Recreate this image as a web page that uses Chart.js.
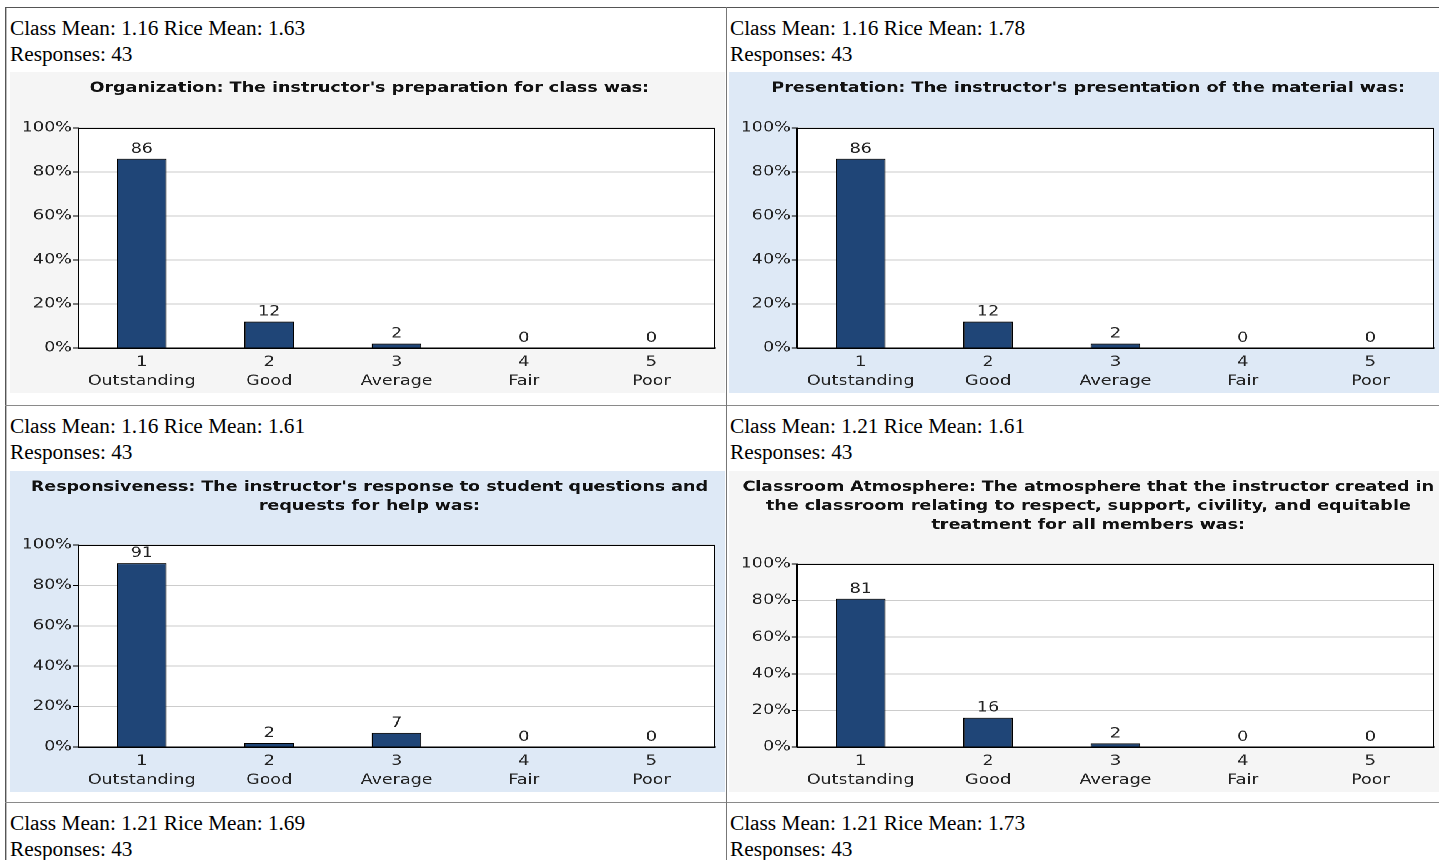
<!DOCTYPE html>
<html>
<head>
<meta charset="utf-8">
<script src="https://cdn.jsdelivr.net/npm/chart.js@4.4.1/dist/chart.umd.min.js"></script>
<style>
  html, body { margin: 0; padding: 0; background: #fff; overflow: hidden; width: 1439px; height: 860px; }
  .line { position: absolute; background: #8a8a8a; }
  .info { position: absolute; font-family: "Liberation Serif", "Times New Roman", serif; font-size: 21.3px; line-height: 25.5px; color: #000; white-space: nowrap; }
  .box { position: absolute; width: 572px; height: 321px; transform: scaleX(1.25); transform-origin: 0 0; }
  .gray { background: #f5f5f5; }
  .blue { background: #dee9f6; }
</style>
</head>
<body>
<div class="line" style="left:5px; top:7px; width:1434px; height:1px; background:#555;"></div>
<div class="line" style="left:5px; top:7px; width:1px; height:853px; background:#555;"></div>
<div class="line" style="left:6px; top:8px; width:1px; height:852px; background:#bbb;"></div>
<div class="line" style="left:5px; top:405px; width:1434px; height:1px;"></div>
<div class="line" style="left:5px; top:802px; width:1434px; height:1px;"></div>
<div class="line" style="left:726px; top:7px; width:1px; height:853px; background:#777;"></div>

<div id="info0" class="info" style="left:10px; top:16px;"></div>
<div id="info1" class="info" style="left:730px; top:16px;"></div>
<div id="info2" class="info" style="left:10px; top:414px;"></div>
<div id="info3" class="info" style="left:730px; top:414px;"></div>
<div id="info4" class="info" style="left:10px; top:811px;"></div>
<div id="info5" class="info" style="left:730px; top:811px;"></div>

<div class="box gray" style="left:10px; top:72px;"><canvas id="c0"></canvas></div>
<div class="box blue" style="left:729px; top:72px;"><canvas id="c1"></canvas></div>
<div class="box blue" style="left:10px; top:471px;"><canvas id="c2"></canvas></div>
<div class="box gray" style="left:729px; top:471px;"><canvas id="c3"></canvas></div>

<script>
// ---- data ----
const ratingNumbers = ['1', '2', '3', '4', '5'];
const ratingNames = ['Outstanding', 'Good', 'Average', 'Fair', 'Poor'];
const yTickValues = [0, 20, 40, 60, 80, 100];

const organizationPct = [86, 12, 2, 0, 0];
const presentationPct = [86, 12, 2, 0, 0];
const responsivenessPct = [91, 2, 7, 0, 0];
const atmospherePct = [81, 16, 2, 0, 0];

const organizationTitle = ["Organization: The instructor's preparation for class was:"];
const presentationTitle = ["Presentation: The instructor's presentation of the material was:"];
const responsivenessTitle = ["Responsiveness: The instructor's response to student questions and", "requests for help was:"];
const atmosphereTitle = ["Classroom Atmosphere: The atmosphere that the instructor created in", "the classroom relating to respect, support, civility, and equitable", "treatment for all members was:"];

const classMeans = ['1.16', '1.16', '1.16', '1.21', '1.21', '1.21'];
const riceMeans = ['1.63', '1.78', '1.61', '1.61', '1.69', '1.73'];
const responseCounts = [43, 43, 43, 43, 43, 43];

// ---- info text ----
classMeans.forEach((cm, i) => {
  const el = document.getElementById('info' + i);
  el.innerHTML = 'Class Mean: ' + cm + ' Rice Mean: ' + riceMeans[i] + '<br>Responses: ' + responseCounts[i];
});

// ---- charts ----
const FONT = 'DejaVu Sans';
const categories = ratingNumbers.map((n, i) => [n, ratingNames[i]]);

const plotDecor = {
  id: 'plotDecor',
  beforeDraw(chart) {
    const a = chart.chartArea, ctx = chart.ctx;
    ctx.save();
    ctx.fillStyle = '#ffffff';
    ctx.fillRect(a.left, a.top, a.right - a.left, a.bottom - a.top);
    ctx.restore();
  },
  afterDatasetsDraw(chart) {
    const ctx = chart.ctx;
    const meta = chart.getDatasetMeta(0);
    const data = chart.data.datasets[0].data;
    ctx.save();
    ctx.font = '14px "' + FONT + '"';
    ctx.fillStyle = '#222';
    ctx.textAlign = 'center';
    ctx.textBaseline = 'alphabetic';
    meta.data.forEach((bar, i) => {
      ctx.fillText(String(data[i]), bar.x, bar.y - 6);
    });
    ctx.restore();
  },
  afterDraw(chart) {
    const a = chart.chartArea, ctx = chart.ctx;
    ctx.save();
    ctx.strokeStyle = '#000';
    ctx.lineWidth = 1;
    ctx.strokeRect(a.left + 0.5, a.top + 0.5, a.right - a.left - 1, a.bottom - a.top);
    ctx.restore();
  }
};

function makeChart(id, title, values, titleBottom) {
  return new Chart(document.getElementById(id), {
    type: 'bar',
    data: {
      labels: categories,
      datasets: [{
        data: values,
        backgroundColor: '#1f4577',
        borderColor: '#000',
        borderWidth: 1,
        barPercentage: 0.39,
        categoryPercentage: 1
      }]
    },
    options: {
      responsive: true,
      maintainAspectRatio: false,
      animation: false,
      devicePixelRatio: 2,
      layout: { padding: { left: 11, right: 8, top: 0, bottom: 0 } },
      plugins: {
        legend: { display: false },
        tooltip: { enabled: false },
        title: {
          display: true,
          text: title,
          color: '#111',
          font: { family: FONT, size: 14, weight: 'bold', lineHeight: 19 / 14 },
          padding: { top: 7, bottom: titleBottom }
        }
      },
      scales: {
        x: {
          grid: { display: false, drawTicks: false },
          border: { display: true, color: '#000' },
          ticks: { color: '#222', font: { family: FONT, size: 14, lineHeight: 19 / 14 }, padding: 5, maxRotation: 0, autoSkip: false },
          afterFit(s) { s.height = 45; }
        },
        y: {
          min: 0, max: 100,
          afterBuildTicks(s) { s.ticks = yTickValues.map(v => ({ value: v })); },
          grid: { color: '#cccccc', drawTicks: true, tickLength: 4, tickColor: '#000' },
          border: { display: true, color: '#000' },
          ticks: { color: '#222', font: { family: FONT, size: 14 }, padding: 1, callback: v => v + '%' },
          afterFit(s) { s.width = 43.4; }
        }
      }
    },
    plugins: [plotDecor]
  });
}

makeChart('c0', organizationTitle, organizationPct, 30);
makeChart('c1', presentationTitle, presentationPct, 30);
makeChart('c2', responsivenessTitle, responsivenessPct, 29);
makeChart('c3', atmosphereTitle, atmospherePct, 29);
</script>
</body>
</html>
